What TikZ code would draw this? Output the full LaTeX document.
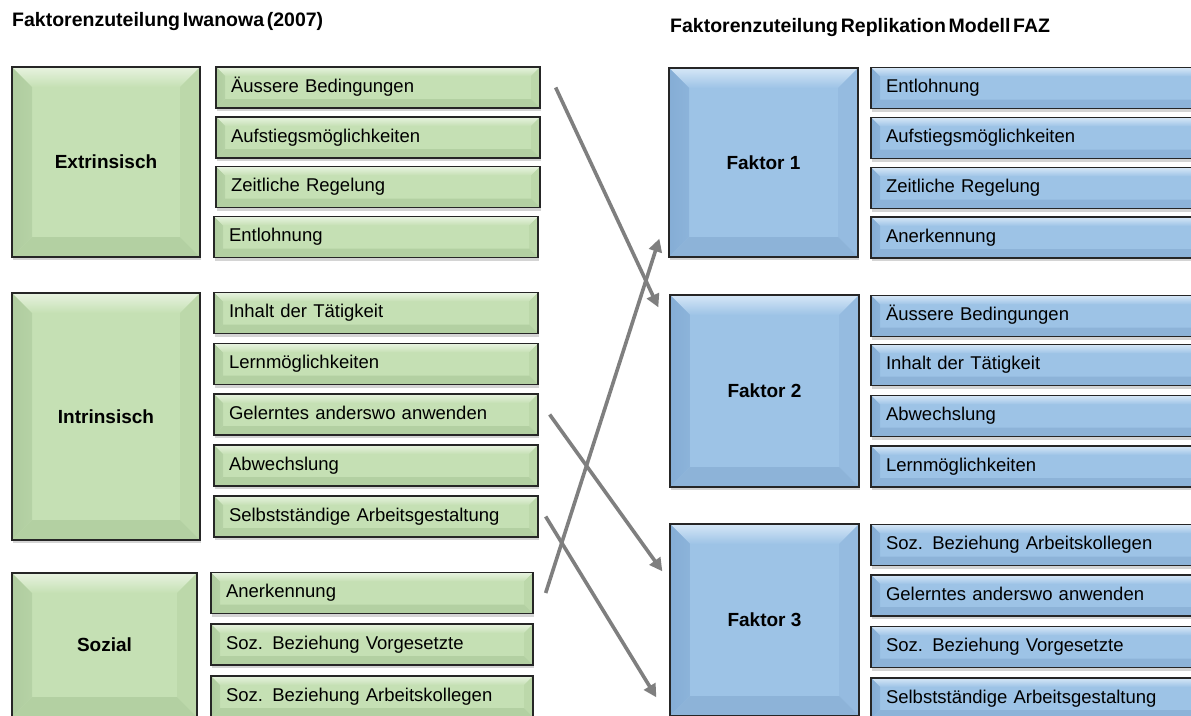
\documentclass[tikz,border=0pt]{standalone}
\usepackage{fontspec}
\setmainfont{Liberation Sans}
\usetikzlibrary{arrows.meta,calc,shadows}
\definecolor{gF}{HTML}{C5E0B4}
\definecolor{gT}{HTML}{E8F3E0}
\definecolor{gL}{HTML}{AFCC9F}
\definecolor{gR}{HTML}{BCD8AA}
\definecolor{gB}{HTML}{B3D0A2}
\definecolor{bF}{HTML}{9DC3E6}
\definecolor{bT}{HTML}{D6E7F7}
\definecolor{bL}{HTML}{85ADD5}
\definecolor{bR}{HTML}{95BBE0}
\definecolor{bB}{HTML}{8DB3D8}
\definecolor{edge}{HTML}{262626}
\definecolor{arrowgray}{HTML}{7F7F7F}
\newcommand\mytitlefont{\fontsize{19.5}{22}\selectfont\bfseries\spaceskip 0.14em\relax}
\tikzset{
  bev/.initial=9,
  bvtop/.initial=white, bvleft/.initial=gray, bvright/.initial=gray,
  bvbot/.initial=gray, bvface/.initial=white,
  bevelbox/.style={draw=edge, line width=1.3pt,
    drop shadow={shadow xshift=1pt, shadow yshift=-3pt, opacity=0.28, fill=black!60},
    path picture={
      \pgfmathsetmacro\bv{\pgfkeysvalueof{/tikz/bev}}
      \coordinate (pnw) at (path picture bounding box.north west);
      \coordinate (pne) at (path picture bounding box.north east);
      \coordinate (psw) at (path picture bounding box.south west);
      \coordinate (pse) at (path picture bounding box.south east);
      \shade[top color=\pgfkeysvalueof{/tikz/bvtop}, bottom color=\pgfkeysvalueof{/tikz/bvface}]
        (pnw) -- (pne) -- ([shift={(-\bv pt,-\bv pt)}]pne) -- ([shift={(\bv pt,-\bv pt)}]pnw) -- cycle;
      \shade[left color=\pgfkeysvalueof{/tikz/bvleft}, right color=\pgfkeysvalueof{/tikz/bvleft}!70!\pgfkeysvalueof{/tikz/bvface}]
        (pnw) -- ([shift={(\bv pt,-\bv pt)}]pnw) -- ([shift={(\bv pt,\bv pt)}]psw) -- (psw) -- cycle;
      \fill[\pgfkeysvalueof{/tikz/bvright}]
        (pne) -- (pse) -- ([shift={(-\bv pt,\bv pt)}]pse) -- ([shift={(-\bv pt,-\bv pt)}]pne) -- cycle;
      \fill[\pgfkeysvalueof{/tikz/bvbot}]
        (psw) -- ([shift={(\bv pt,\bv pt)}]psw) -- ([shift={(-\bv pt,\bv pt)}]pse) -- (pse) -- cycle;
    }},
  greenbox/.style={fill=gF, bvface=gF, bvtop=gT, bvleft=gL, bvright=gR, bvbot=gB, bevelbox},
  bluebox/.style={fill=bF, bvface=bF, bvtop=bT, bvleft=bL, bvright=bR, bvbot=bB, bevelbox},
  bigbox/.style={minimum width=188pt, inner sep=0pt, bev=20,
    font=\fontsize{19}{22}\selectfont\bfseries},
  itembox/.style={text width=#1, align=left, inner xsep=15pt, inner ysep=0pt,
    minimum height=41pt, text height=13pt, text depth=4pt, bev=9,
    font=\fontsize{18.5}{22}\selectfont},
  titletext/.style={anchor=west, inner sep=0pt, font=\mytitlefont},
  conn/.style={draw=arrowgray, line width=3.6pt, -{Triangle[length=13pt,width=13pt]}}
}
\begin{document}
\begin{tikzpicture}[x=1pt,y=-1pt]
\useasboundingbox[fill=white] (0,0) rectangle (1191,715);
\clip (0,0) rectangle (1191,715);

% titles
\node[titletext] (t1) at (12,22) {Faktorenzuteilung Iwanowa (2007)};
\node[titletext] (t2) at (670,27) {Faktorenzuteilung Replikation Modell FAZ};

% left: big green boxes
\node[greenbox, bigbox, minimum height=190pt] (ext) at (106,162) {Extrinsisch};
\node[greenbox, bigbox, minimum height=247pt] (intr) at (106,416.5) {Intrinsisch};
\node[greenbox, bigbox, minimum width=185pt, minimum height=144pt] (soz) at (104.5,645) {Sozial};

% left: items
\node[greenbox, itembox=294pt] (g1) at (378,87.5) {Äussere Bedingungen};
\node[greenbox, itembox=294pt] (g2) at (378,137.5) {Aufstiegsmöglichkeiten};
\node[greenbox, itembox=294pt] (g3) at (378,187) {Zeitliche Regelung};
\node[greenbox, itembox=294pt] (g4) at (376,237) {Entlohnung};
\node[greenbox, itembox=294pt] (g5) at (376,313) {Inhalt der Tätigkeit};
\node[greenbox, itembox=294pt] (g6) at (376,364) {Lernmöglichkeiten};
\node[greenbox, itembox=294pt] (g7) at (376,414.5) {Gelerntes anderswo anwenden};
\node[greenbox, itembox=294pt] (g8) at (376,465.5) {Abwechslung};
\node[greenbox, itembox=294pt] (g9) at (376,516.5) {Selbstständige Arbeitsgestaltung};
\node[greenbox, itembox=292pt] (g10) at (372,593) {Anerkennung};
\node[greenbox, itembox=292pt] (g11) at (372,644.5) {Soz. Beziehung Vorgesetzte};
\node[greenbox, itembox=292pt] (g12) at (372,696.5) {Soz. Beziehung Arbeitskollegen};

% right: big blue boxes
\node[bluebox, bigbox, minimum width=189pt, minimum height=189pt] (f1) at (763.5,162.5) {Faktor 1};
\node[bluebox, bigbox, minimum width=189pt, minimum height=192pt] (f2) at (764.5,391) {Faktor 2};
\node[bluebox, bigbox, minimum width=189pt, minimum height=192pt] (f3) at (764.5,620) {Faktor 3};

% right: items
\node[bluebox, itembox=310pt] (b1) at (1041,88) {Entlohnung};
\node[bluebox, itembox=310pt] (b2) at (1041,138) {Aufstiegsmöglichkeiten};
\node[bluebox, itembox=310pt] (b3) at (1041,188) {Zeitliche Regelung};
\node[bluebox, itembox=310pt] (b4) at (1041,237.5) {Anerkennung};
\node[bluebox, itembox=310pt] (b5) at (1041,316) {Äussere Bedingungen};
\node[bluebox, itembox=310pt] (b6) at (1041,365) {Inhalt der Tätigkeit};
\node[bluebox, itembox=310pt] (b7) at (1041,416) {Abwechslung};
\node[bluebox, itembox=310pt] (b8) at (1041,466.5) {Lernmöglichkeiten};
\node[bluebox, itembox=310pt] (b9) at (1041,545) {Soz. Beziehung Arbeitskollegen};
\node[bluebox, itembox=310pt] (b10) at (1041,595.5) {Gelerntes anderswo anwenden};
\node[bluebox, itembox=310pt] (b11) at (1041,647) {Soz. Beziehung Vorgesetzte};
\node[bluebox, itembox=310pt] (b12) at (1041,698.5) {Selbstständige Arbeitsgestaltung};

% connectors
\draw[conn] ([xshift=15pt]g1.east) -- ($(f2.north west)+(-11,13)$);
\draw[conn] ([xshift=12pt]g10.east) -- ($(f1.south west)+(-9,-19)$);
\draw[conn] ([xshift=11pt]g7.east) -- ($(f3.north west)+(-7,48)$);
\draw[conn] ([xshift=7pt]g9.east) -- ($(f3.north west)+(-13,174)$);
\end{tikzpicture}
\end{document}
